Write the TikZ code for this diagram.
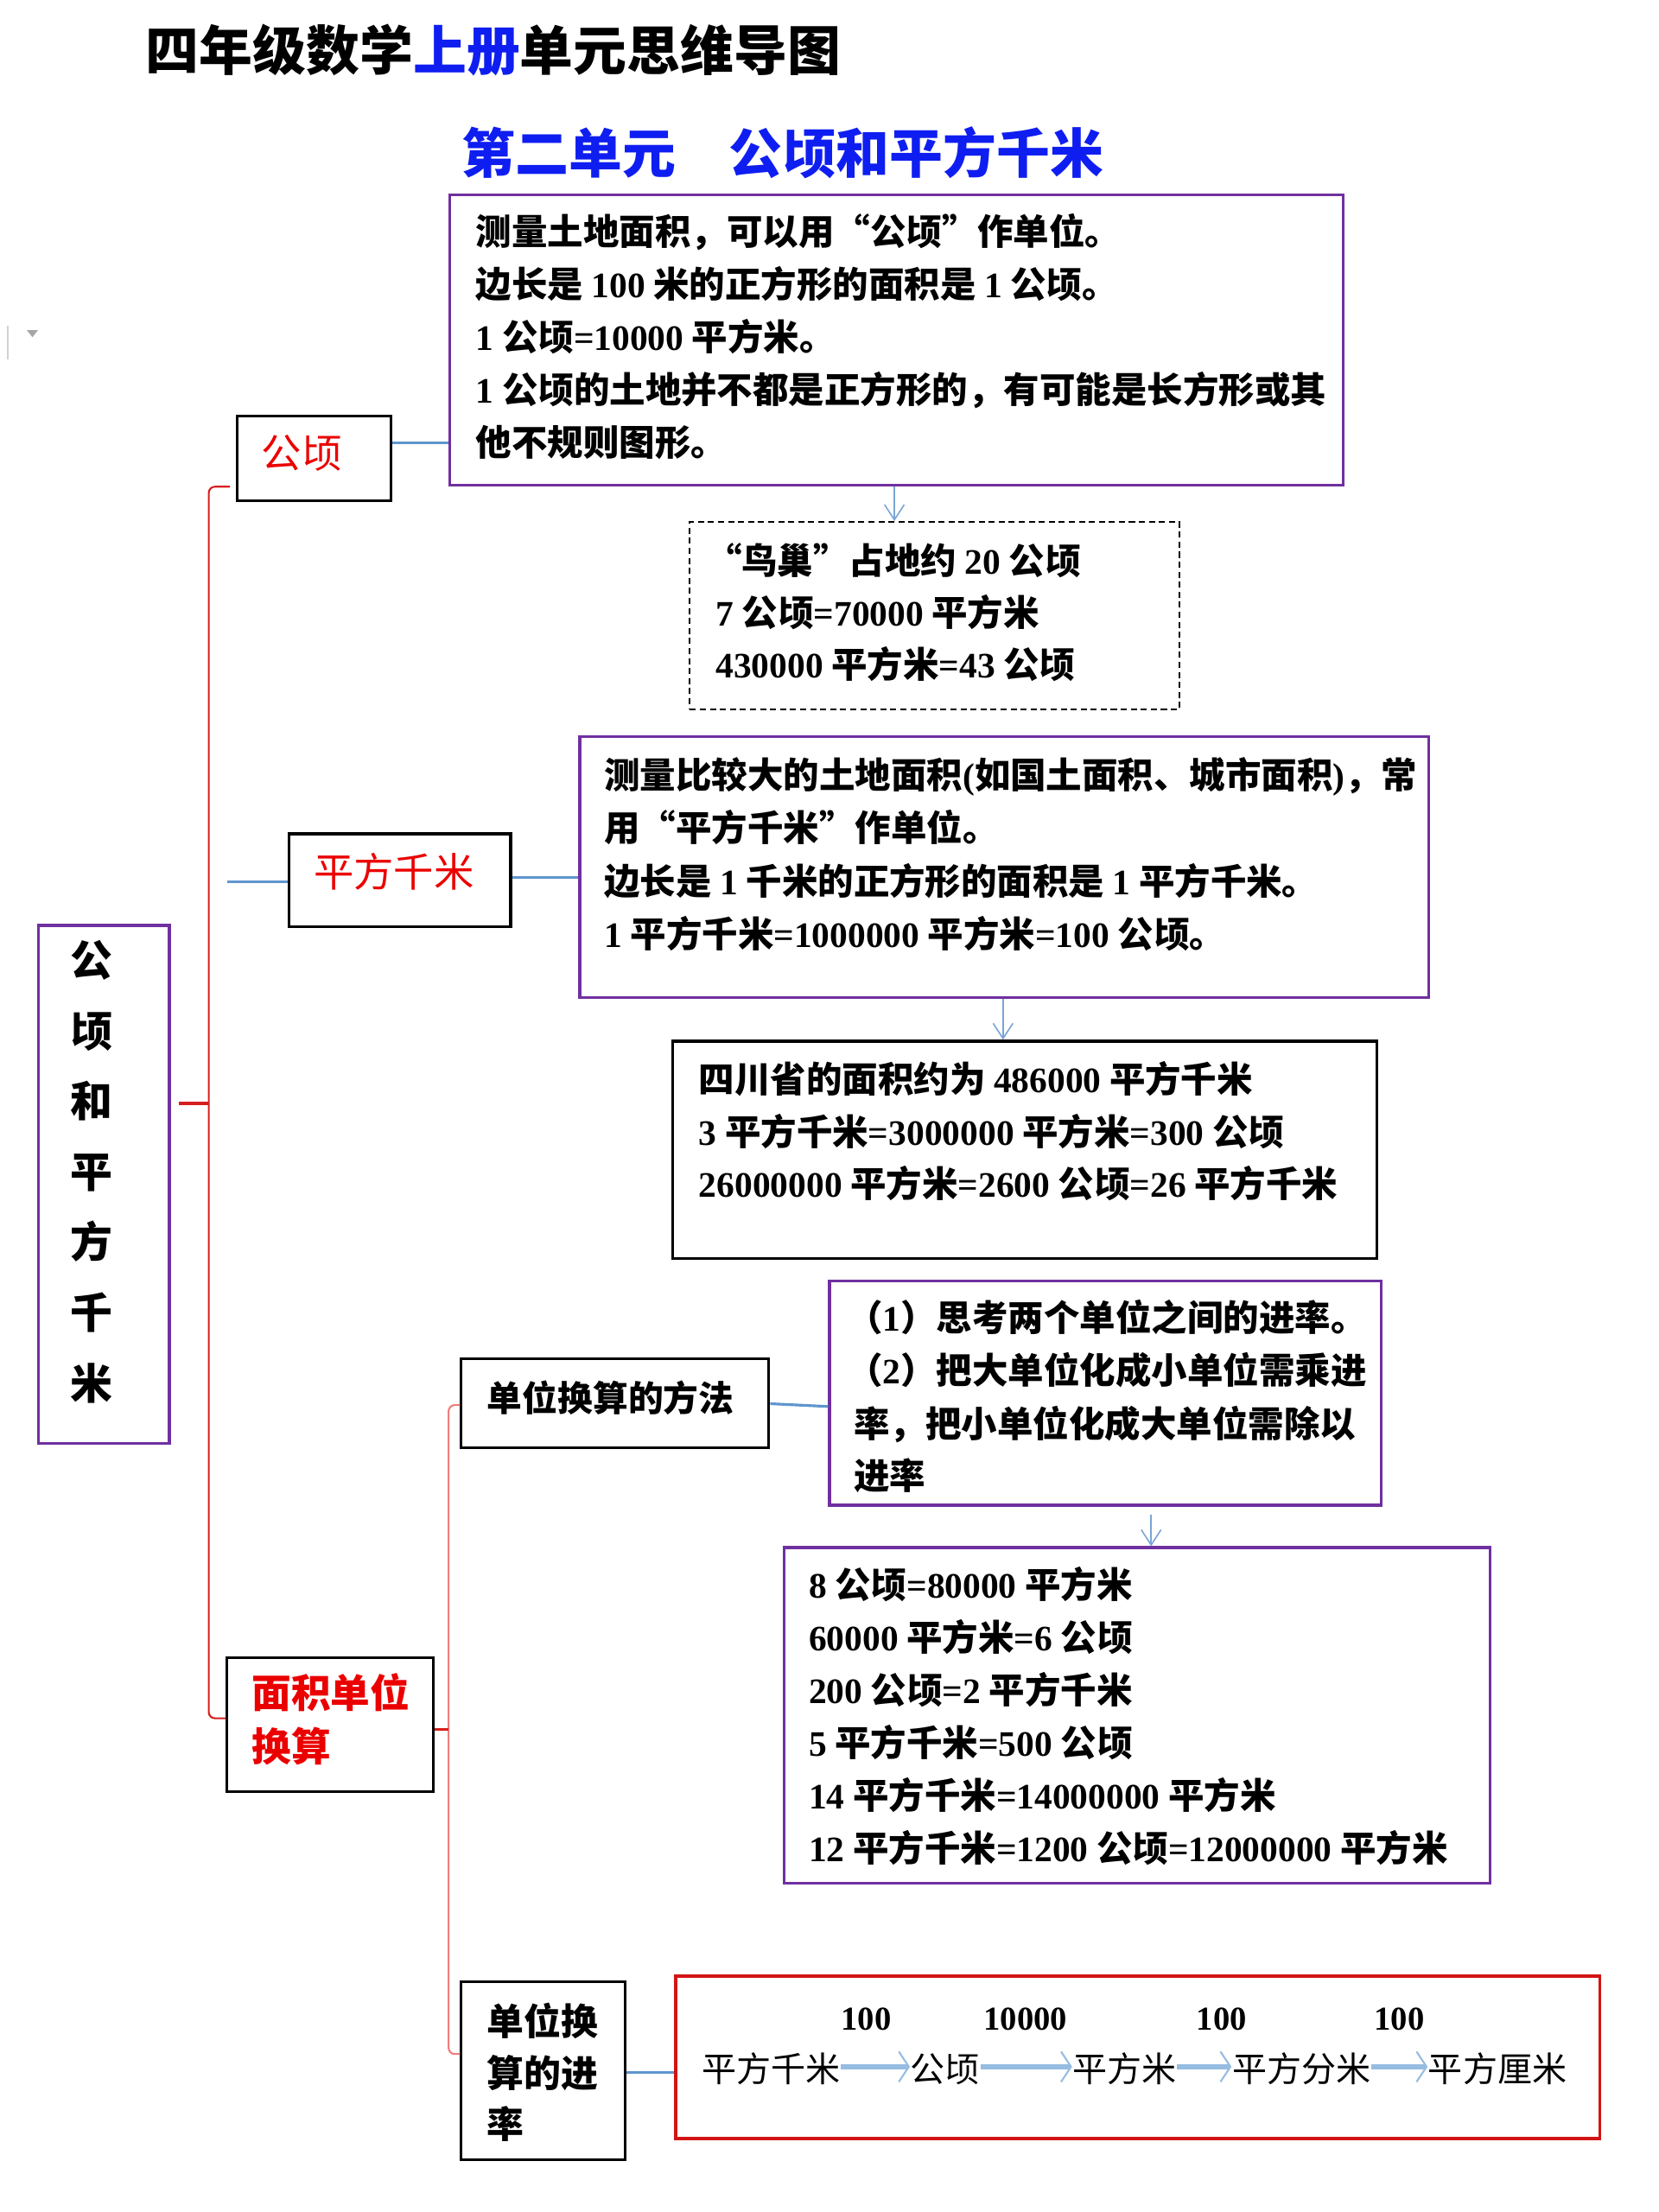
\documentclass[tikz,border=0pt]{standalone}
\usepackage{fontspec}
\setmainfont{Noto Sans CJK SC}
\newfontfamily\lat{Liberation Serif}
\newcommand\D[1]{{\lat #1}}
\usetikzlibrary{arrows.meta,fit}
\definecolor{purp}{RGB}{112,48,160}
\definecolor{cblue}{RGB}{95,150,205}
\definecolor{ablue}{RGB}{120,165,215}
\definecolor{gblue}{RGB}{150,188,225}
\definecolor{tred}{RGB}{235,0,0}
\definecolor{bred}{RGB}{215,30,30}
\definecolor{lred}{RGB}{240,125,125}
\definecolor{gred}{RGB}{210,20,20}
\definecolor{tblue}{RGB}{15,30,240}
\newcommand\titlef{\fontsize{17.6pt}{20pt}\selectfont\bfseries}
\newcommand\subf{\fontsize{17.6pt}{20pt}\selectfont\bfseries}
\newcommand\bodyf{\fontsize{11.8pt}{14pt}\selectfont\bfseries}
\newcommand\mainf{\fontsize{13.9pt}{16pt}\selectfont\bfseries}
\newcommand\redf{\fontsize{13.2pt}{16pt}\selectfont}
\newcommand\redbf{\fontsize{13pt}{16pt}\selectfont\bfseries}
\newcommand\labf{\fontsize{11.6pt}{14pt}\selectfont\bfseries}
\newcommand\jlf{\fontsize{12.2pt}{14pt}\selectfont\bfseries}
\newcommand\unitf{\fontsize{11.4pt}{14pt}\selectfont}
\newcommand\numf{\fontsize{11pt}{13pt}\selectfont\lat\bfseries}
\begin{document}
\begin{tikzpicture}[x=0.16327mm,y=-0.16327mm,
  pbox/.style={draw=purp,line width=0.9pt,inner sep=0pt},
  kbox/.style={draw=black,line width=0.9pt,inner sep=0pt},
  dbox/.style={draw=black,line width=0.6pt,dash pattern=on 2pt off 1.3pt,inner sep=0pt},
  gbox/.style={draw=gred,line width=1.1pt,inner sep=0pt},
  txt/.style={anchor=west,inner sep=0pt,text height=1em,text depth=0em},
  ctxt/.style={anchor=center,inner sep=0pt,text height=1em,text depth=0em},
  conn/.style={draw=cblue,line width=0.9pt},
  thinarr/.style={draw=ablue,line width=0.45pt,-{Straight Barb[length=5pt,width=6.5pt]}},
  garr/.style={draw=gblue,line width=1.7pt,-{Straight Barb[length=3.3pt,width=10pt,line width=0.6pt]}},
  br1/.style={draw=bred,line width=0.6pt,rounded corners=2pt},
  br2/.style={draw=lred,line width=0.6pt,rounded corners=2pt},
  tick/.style={draw=bred,line width=1pt}
]
\useasboundingbox (0,0) rectangle (1176,1568);
% small artefact top left
\draw[gray!35,line width=0.6pt] (5.5,231) -- (5.5,255);
\fill[gray!70] (19,234) -- (27,234) -- (23,239) -- cycle;

% titles
\node[txt,font=\titlef] (title) at (103,39) {四年级数学\textcolor{tblue}{上册}单元思维导图};
\node[txt,font=\subf,text=tblue] (sub) at (327,112) {第二单元\hspace{1em}公顷和平方千米};

% boxes
\node[pbox,fit={(319,138) (952,344)}] (boxA) {};
\node[dbox,fit={(489,370) (836,503)}] (boxB) {};
\node[pbox,fit={(411,522) (1013,707)}] (boxC) {};
\node[kbox,fit={(477,738) (976,892)}] (boxD) {};
\node[pbox,fit={(588,908) (979,1067)}] (boxE) {};
\node[pbox,fit={(556,1097) (1056,1335)}] (boxF) {};
\node[gbox,fit={(479,1401) (1134,1516)}] (boxG) {};
\node[pbox,fit={(27,656) (120,1023)}] (main) {};
\node[kbox,fit={(168,295) (277,355)}] (gq) {};
\node[kbox,fit={(205,591) (362,657)}] (pf) {};
\node[kbox,fit={(161,1175) (307,1270)}] (mj) {};
\node[kbox,fit={(327,963) (545,1026)}] (ff) {};
\node[kbox,fit={(327,1405) (443,1531)}] (jl) {};

% main vertical text
\foreach \c [count=\i] in {公,顷,和,平,方,千,米}
  \node[ctxt,font=\mainf] (m\i) at (65,{681+50*(\i-1)}) {\c};

% branch labels
\node[txt,font=\redf,text=tred] (gqt) at (185,321) {公顷};
\node[txt,font=\redf,text=tred] (pft) at (222,618) {平方千米};
\node[txt,font=\redbf,text=tred] (mjt1) at (178,1200) {面积单位};
\node[txt,font=\redbf,text=tred] (mjt2) at (178,1238) {换算};
\node[txt,font=\labf] (fft) at (345,990) {单位换算的方法};
\foreach \t [count=\i] in {单位换,算的进,率}
  \node[txt,font=\jlf] (jlt\i) at (345,{1432+36.5*(\i-1)}) {\t};

% box texts
\foreach \t [count=\i] in {{测量土地面积，可以用“公顷”作单位。},{边长是 \D{100} 米的正方形的面积是 \D{1} 公顷。},{\D{1} 公顷\D{=10000} 平方米。},{\D{1} 公顷的土地并不都是正方形的，有可能是长方形或其},{他不规则图形。}}
  \node[txt,font=\bodyf] (a\i) at (337,{163+37.3*(\i-1)}) {\t};
\node[txt,font=\bodyf] (b1) at (500,396) {“鸟巢”占地约 \D{20} 公顷};
\node[txt,font=\bodyf] (b2) at (507,433) {\D{7} 公顷\D{=70000} 平方米};
\node[txt,font=\bodyf] (b3) at (507,470) {\D{430000} 平方米\D{=43} 公顷};
\foreach \t [count=\i] in {{测量比较大的土地面积\D{(}如国土面积、城市面积\D{)}，常},{用“平方千米”作单位。},{边长是 \D{1} 千米的正方形的面积是 \D{1} 平方千米。},{\D{1} 平方千米\D{=1000000} 平方米\D{=100} 公顷。}}
  \node[txt,font=\bodyf] (c\i) at (428,{548+37.7*(\i-1)}) {\t};
\foreach \t [count=\i] in {{四川省的面积约为 \D{486000} 平方千米},{\D{3} 平方千米\D{=3000000} 平方米\D{=300} 公顷},{\D{26000000} 平方米\D{=2600} 公顷\D{=26} 平方千米}}
  \node[txt,font=\bodyf] (d\i) at (495,{764+37*(\i-1)}) {\t};
\node[txt,font=\bodyf] (e1) at (600,933) {（\D{1}）思考两个单位之间的进率。};
\node[txt,font=\bodyf] (e2) at (600,970) {（\D{2}）把大单位化成小单位需乘进};
\node[txt,font=\bodyf] (e3) at (605,1008) {率，把小单位化成大单位需除以};
\node[txt,font=\bodyf] (e4) at (605,1045) {进率};
\foreach \t [count=\i] in {{\D{8} 公顷\D{=80000} 平方米},{\D{60000} 平方米\D{=6} 公顷},{\D{200} 公顷\D{=2} 平方千米},{\D{5} 平方千米\D{=500} 公顷},{\D{14} 平方千米\D{=14000000} 平方米},{\D{12} 平方千米\D{=1200} 公顷\D{=12000000} 平方米}}
  \node[txt,font=\bodyf] (f\i) at (573,{1122+37.4*(\i-1)}) {\t};

% conversion chain
\node[txt,font=\unitf] (u1) at (497,1465) {平方千米};
\node[txt,font=\unitf] (u2) at (645,1465) {公顷};
\node[txt,font=\unitf] (u3) at (760,1465) {平方米};
\node[txt,font=\unitf] (u4) at (873,1465) {平方分米};
\node[txt,font=\unitf] (u5) at (1012,1465) {平方厘米};
\node[ctxt,font=\numf] (n1) at (614,1428) {100};
\node[ctxt,font=\numf] (n2) at (727,1428) {10000};
\node[ctxt,font=\numf] (n3) at (866,1428) {100};
\node[ctxt,font=\numf] (n4) at (992,1428) {100};
\draw[garr] (u1.east) -- (u2.west);
\draw[garr] (u2.east) -- (u3.west);
\draw[garr] (u3.east) -- (u4.west);
\draw[garr] (u4.east) -- (u5.west);

% connectors
\draw[conn] (gq.east |- 0,314) -- (boxA.west |- 0,314);
\coordinate (pfl) at (161,625);
\draw[conn] (pfl) -- (pf.west |- pfl);
\draw[conn] (pf.east |- 0,622) -- (boxC.west |- 0,622);
\draw[conn] (ff.east |- 0,995) -- (boxE.west |- 0,997);
\draw[conn] (jl.east |- 0,1469) -- (boxG.west |- 0,1469);

% arrows
\draw[thinarr] (boxA.south -| 634,0) -- (boxB.north -| 634,0);
\draw[thinarr] (boxC.south -| 711,0) -- (boxD.north -| 711,0);
\draw[thinarr] (boxE.south -| 816,0) ++(0,6) -- (boxF.north -| 816,0);

% brackets
\coordinate (b1a) at (163,345);
\coordinate (b1t) at (127,782);
\draw[br1] (b1a) -- (148,345) -- (148,1218) -- (mj.west |- 0,1218);
\draw[tick] (b1t) -- (148,782);
\draw[br2] (ff.west |- 0,996) -- (318,996) -- (318,1456) -- (jl.west |- 0,1456);
\draw[tick] (mj.east |- 0,1226) -- (318,1226);
\end{tikzpicture}
\end{document}
